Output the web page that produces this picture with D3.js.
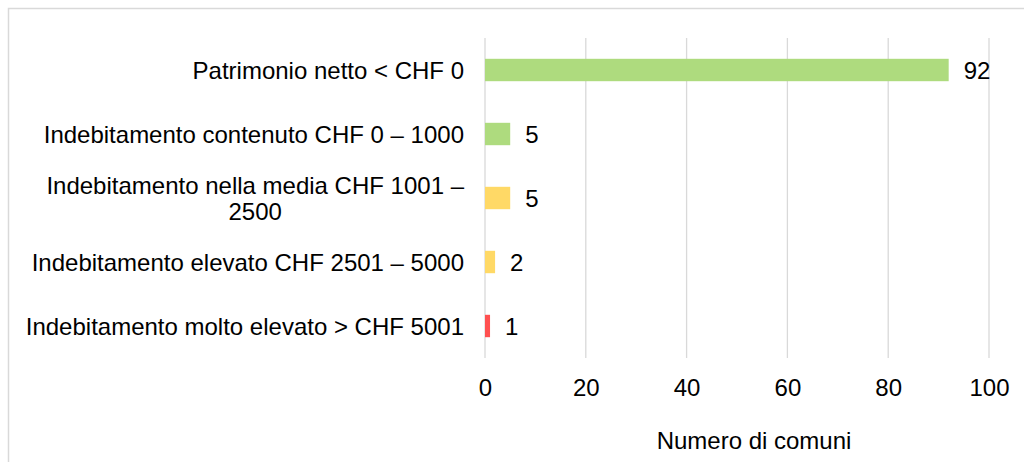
<!DOCTYPE html>
<html>
<head>
<meta charset="utf-8">
<script src="https://cdn.jsdelivr.net/npm/d3@7"></script>
<style>
  html, body { margin: 0; padding: 0; background: #fff; }
  svg { display: block; }
  text { font-family: "Liberation Sans", Arial, sans-serif; fill: #000; }
</style>
</head>
<body>
<svg id="chart" width="1024" height="462"></svg>
<script>
const categories = [
  "Patrimonio netto < CHF 0",
  "Indebitamento contenuto CHF 0 – 1000",
  "Indebitamento nella media CHF 1001 – 2500",
  "Indebitamento elevato CHF 2501 – 5000",
  "Indebitamento molto elevato > CHF 5001"
];
const categoryLines = [
  ["Patrimonio netto < CHF 0"],
  ["Indebitamento contenuto CHF 0 – 1000"],
  ["Indebitamento nella media CHF 1001 –", "2500"],
  ["Indebitamento elevato CHF 2501 – 5000"],
  ["Indebitamento molto elevato > CHF 5001"]
];
const values = [92, 5, 5, 2, 1];
const xTicks = [0, 20, 40, 60, 80, 100];
const axisTitle = "Numero di comuni";

const barColors = ["#AEDB7E", "#AEDB7E", "#FFD966", "#FFD966", "#FF5050"];

const svg = d3.select("#chart");
const W = 1024, H = 462;
const plot = { left: 485, right: 989, top: 38, bottom: 358 };
const fontSize = 24;

// outer frame
svg.append("rect")
  .attr("x", 8.5).attr("y", 8.5)
  .attr("width", W + 20).attr("height", H + 20)
  .attr("fill", "none").attr("stroke", "#d9d9d9").attr("stroke-width", 1.5);

const x = d3.scaleLinear().domain([0, 100]).range([plot.left, plot.right]);
const y = d3.scaleBand().domain(categories).range([plot.top, plot.bottom])
  .paddingInner(0.65).paddingOuter(0.325);
const color = d3.scaleOrdinal().domain(categories).range(barColors);

// gridlines
svg.append("g").selectAll("line").data(xTicks).join("line")
  .attr("x1", d => x(d)).attr("x2", d => x(d))
  .attr("y1", plot.top).attr("y2", plot.bottom)
  .attr("stroke", "#d9d9d9").attr("stroke-width", 1.3);

// x axis tick labels via d3 axis
const xAxis = d3.axisBottom(x).tickValues(xTicks).tickSize(0).tickPadding(0);
const gx = svg.append("g").attr("transform", `translate(0,${plot.bottom})`).call(xAxis);
gx.select(".domain").remove();
gx.selectAll("text")
  .attr("dy", null).attr("y", 38)
  .style("font-size", fontSize + "px")
  .style("font-family", '"Liberation Sans", Arial, sans-serif')
  .attr("fill", "#000");

// bars
svg.append("g").selectAll("rect").data(categories).join("rect")
  .attr("x", x(0))
  .attr("y", d => y(d))
  .attr("width", (d, i) => x(values[i]) - x(0))
  .attr("height", y.bandwidth())
  .attr("fill", d => color(d));

// value labels
svg.append("g").selectAll("text").data(categories).join("text")
  .attr("x", (d, i) => x(values[i]) + 15)
  .attr("y", d => y(d) + y.bandwidth() / 2)
  .attr("dy", "0.36em")
  .style("font-size", fontSize + "px")
  .text((d, i) => values[i]);

// category labels
const labelRight = 464;
const lineH = 26;
categories.forEach((c, i) => {
  const lines = categoryLines[i];
  const cy = y(c) + y.bandwidth() / 2;
  const g = svg.append("g");
  const texts = lines.map((ln, j) => g.append("text")
    .style("font-size", fontSize + "px")
    .attr("y", cy + (j - (lines.length - 1) / 2) * lineH)
    .attr("dy", "0.36em")
    .text(ln));
  const maxW = d3.max(texts, t => t.node().getComputedTextLength());
  texts.forEach(t => t.attr("x", labelRight - maxW / 2).attr("text-anchor", "middle"));
});

// axis title
svg.append("text")
  .attr("x", 754).attr("y", 449)
  .attr("text-anchor", "middle")
  .style("font-size", fontSize + "px")
  .text(axisTitle);
</script>
</body>
</html>
